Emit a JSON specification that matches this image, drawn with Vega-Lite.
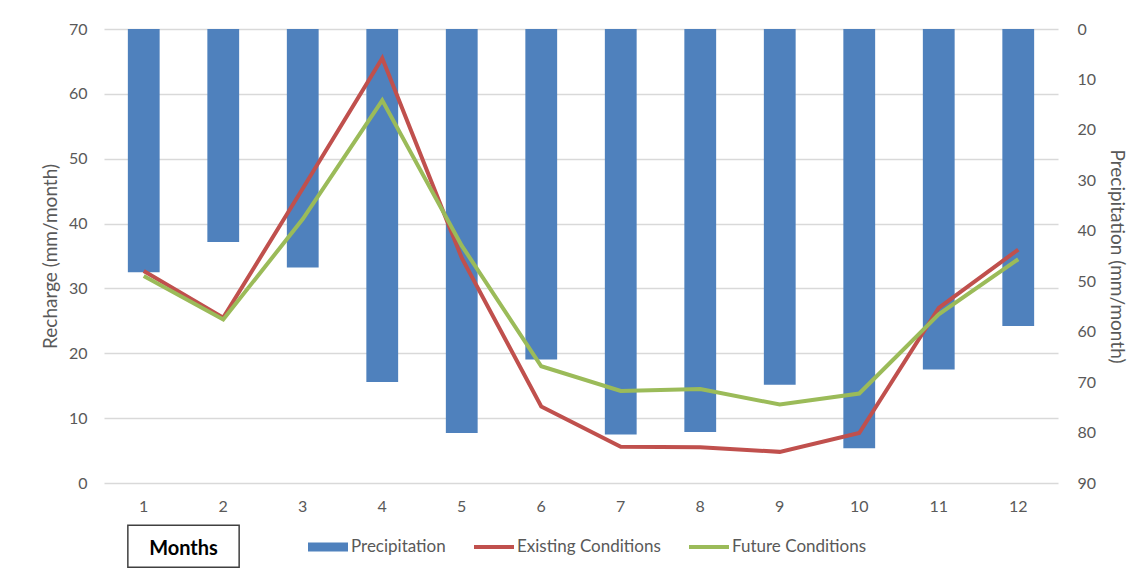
{
  "$schema": "https://vega.github.io/schema/vega-lite/v6.json",
  "autosize": {"type": "none"},
  "width": 954,
  "height": 454,
  "padding": {"left": 104, "top": 29, "right": 80, "bottom": 86},
  "background": "white",
  "config": {
    "font": "Lato",
    "view": {"stroke": null},
    "axis": {
      "labelFont": "Lato",
      "labelFontSize": 16,
      "labelColor": "#595959",
      "titleFont": "Lato",
      "titleFontSize": 19,
      "titleFontWeight": "normal",
      "titleColor": "#595959",
      "ticks": false,
      "domain": false
    },
    "legend": {
      "title": null,
      "orient": "none",
      "direction": "horizontal",
      "legendX": 204,
      "legendY": 498,
      "padding": 0,
      "symbolSize": 1600,
      "labelFont": "Lato",
      "labelFontSize": 17,
      "labelColor": "#595959",
      "labelOffset": 3,
      "columnPadding": 28
    }
  },
  "datasets": {
    "monthly": [
      {"month": 1, "series": "Precipitation", "value": 48.2},
      {"month": 2, "series": "Precipitation", "value": 42.2},
      {"month": 3, "series": "Precipitation", "value": 47.3},
      {"month": 4, "series": "Precipitation", "value": 70.0},
      {"month": 5, "series": "Precipitation", "value": 80.1},
      {"month": 6, "series": "Precipitation", "value": 65.5},
      {"month": 7, "series": "Precipitation", "value": 80.4},
      {"month": 8, "series": "Precipitation", "value": 79.9},
      {"month": 9, "series": "Precipitation", "value": 70.5},
      {"month": 10, "series": "Precipitation", "value": 83.1},
      {"month": 11, "series": "Precipitation", "value": 67.5},
      {"month": 12, "series": "Precipitation", "value": 58.9},
      {"month": 1, "series": "Existing Conditions", "value": 32.7},
      {"month": 2, "series": "Existing Conditions", "value": 25.5},
      {"month": 3, "series": "Existing Conditions", "value": 45.4},
      {"month": 4, "series": "Existing Conditions", "value": 65.5},
      {"month": 5, "series": "Existing Conditions", "value": 34.7},
      {"month": 6, "series": "Existing Conditions", "value": 11.8},
      {"month": 7, "series": "Existing Conditions", "value": 5.6},
      {"month": 8, "series": "Existing Conditions", "value": 5.5},
      {"month": 9, "series": "Existing Conditions", "value": 4.8},
      {"month": 10, "series": "Existing Conditions", "value": 7.7},
      {"month": 11, "series": "Existing Conditions", "value": 27.0},
      {"month": 12, "series": "Existing Conditions", "value": 36.0},
      {"month": 1, "series": "Future Conditions", "value": 31.9},
      {"month": 2, "series": "Future Conditions", "value": 25.2},
      {"month": 3, "series": "Future Conditions", "value": 40.7},
      {"month": 4, "series": "Future Conditions", "value": 59.0},
      {"month": 5, "series": "Future Conditions", "value": 36.6},
      {"month": 6, "series": "Future Conditions", "value": 18.0},
      {"month": 7, "series": "Future Conditions", "value": 14.2},
      {"month": 8, "series": "Future Conditions", "value": 14.5},
      {"month": 9, "series": "Future Conditions", "value": 12.1},
      {"month": 10, "series": "Future Conditions", "value": 13.8},
      {"month": 11, "series": "Future Conditions", "value": 26.0},
      {"month": 12, "series": "Future Conditions", "value": 34.5}
    ],
    "axisLabel": [
      {"from": 1, "to": 2, "top": -6.5, "bottom": -13.0, "mid": -10.2, "label": "Months"}
    ]
  },
  "layer": [
    {
      "data": {"name": "monthly"},
      "transform": [{"filter": "datum.series === 'Precipitation'"}],
      "mark": {"type": "bar", "width": {"band": 0.4}},
      "encoding": {
        "x": {
          "field": "month",
          "type": "ordinal",
          "scale": {"paddingInner": 0, "paddingOuter": 0},
          "axis": {"title": null, "labelAngle": 0, "labelPadding": 15, "grid": false}
        },
        "y": {
          "field": "value",
          "type": "quantitative",
          "scale": {"domain": [0, 90], "reverse": true, "nice": false},
          "axis": {
            "orient": "right",
            "title": "Precipitation (mm/month)",
            "values": [0, 10, 20, 30, 40, 50, 60, 70, 80, 90],
            "grid": false,
            "labelPadding": 19,
            "titlePadding": 11
          }
        },
        "color": {
          "field": "series",
          "type": "nominal",
          "scale": {
            "domain": ["Precipitation", "Existing Conditions", "Future Conditions"],
            "range": ["#4F81BD", "#C0504D", "#9BBB59"]
          },
          "legend": {
            "values": ["Precipitation", "Existing Conditions", "Future Conditions"],
            "encode": {
              "symbols": {
                "update": {
                  "shape": {"signal": "datum.value === 'Precipitation' ? 'M-1,-0.22H1V0.22H-1Z' : 'M-1,-0.1H1V0.1H-1Z'"},
                  "fill": {"scale": "color", "field": "value"},
                  "stroke": {"value": "transparent"},
                  "strokeWidth": {"value": 0},
                  "opacity": {"value": 1}
                }
              }
            }
          }
        }
      }
    },
    {
      "layer": [
        {
          "data": {"name": "monthly"},
          "transform": [{"filter": "datum.series !== 'Precipitation'"}],
          "mark": {"type": "line", "strokeWidth": 4, "strokeJoin": "miter"},
          "encoding": {
            "x": {"field": "month", "type": "ordinal", "title": null},
            "y": {
              "field": "value",
              "type": "quantitative",
              "scale": {"domain": [0, 70], "nice": false},
              "axis": {
                "orient": "left",
                "title": "Recharge (mm/month)",
                "values": [0, 10, 20, 30, 40, 50, 60, 70],
                "grid": true,
                "gridColor": "#D9D9D9",
                "gridWidth": 1.5,
                "labelPadding": 17,
                "titlePadding": 8
              }
            },
            "color": {
              "field": "series",
              "type": "nominal"
            }
          }
        },
        {
          "data": {"name": "axisLabel"},
          "mark": {"type": "rect", "fill": "white", "stroke": "#404040", "strokeWidth": 1.5},
          "encoding": {
            "x": {"field": "from", "type": "ordinal", "bandPosition": 0.3, "title": null},
            "x2": {"field": "to", "bandPosition": 0.7},
            "y": {"field": "top", "type": "quantitative"},
            "y2": {"field": "bottom"}
          }
        },
        {
          "data": {"name": "axisLabel"},
          "mark": {"type": "text", "font": "Lato", "fontSize": 20, "fontWeight": "bold", "color": "black", "baseline": "middle", "align": "center"},
          "encoding": {
            "x": {"field": "to", "type": "ordinal", "bandPosition": 0, "title": null},
            "y": {"field": "mid", "type": "quantitative"},
            "text": {"field": "label"}
          }
        }
      ]
    }
  ],
  "resolve": {"scale": {"y": "independent"}}
}
